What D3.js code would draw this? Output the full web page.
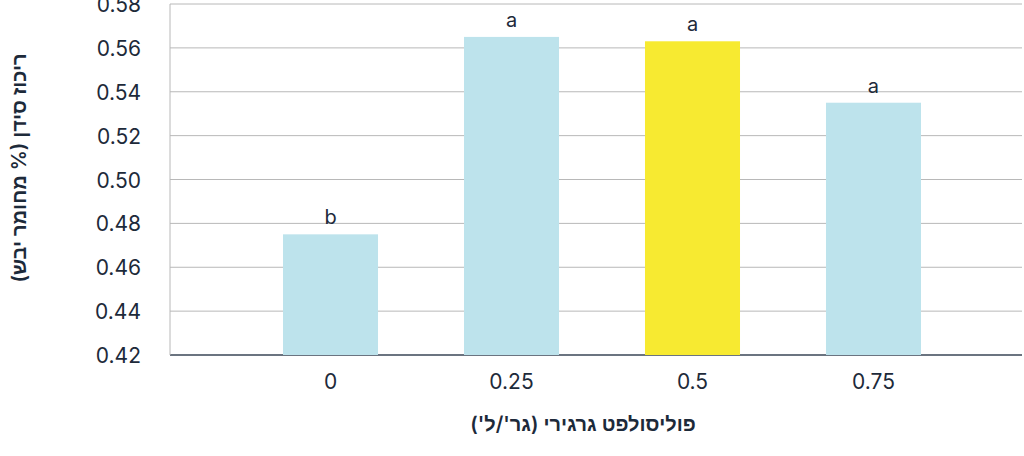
<!DOCTYPE html>
<html><head><meta charset="utf-8">
<script src="https://cdnjs.cloudflare.com/ajax/libs/d3/7.8.5/d3.min.js"></script>
<style>body{margin:0;background:#fff}svg{display:block;font-family:Inter,"Noto Sans",sans-serif}</style>
</head><body><svg id="chart" width="1024" height="456"></svg>
<script>
// chart data
var categories = ["0", "0.25", "0.5", "0.75"];
var values = [0.475, 0.565, 0.563, 0.535];
var letters = ["b", "a", "a", "a"];
var yTicks = [0.42, 0.44, 0.46, 0.48, 0.50, 0.52, 0.54, 0.56, 0.58];
var highlight = "0.5";

var svg = d3.select("#chart");
var ink = "#1d2a3a";

var x = d3.scaleBand().domain(categories).range([283, 921]).paddingInner(0.475).paddingOuter(0);
var y = d3.scaleLinear().domain([0.42, 0.58]).range([355, 4]);

// gridlines
svg.selectAll(".grid").data(yTicks).enter().append("line")
  .attr("x1", 170).attr("x2", 1022)
  .attr("y1", d => y(d)).attr("y2", d => y(d))
  .attr("stroke", d => d == 0.42 ? "#3a4656" : "#b8b8b8")
  .attr("stroke-width", d => d == 0.42 ? 1.5 : 1);
svg.append("line").attr("x1", 170).attr("x2", 170).attr("y1", 4).attr("y2", 355).attr("stroke", "#b8b8b8");

// y tick labels
svg.selectAll(".yt").data(yTicks).enter().append("text")
  .attr("x", 141).attr("y", d => y(d) + 8)
  .attr("text-anchor", "end").attr("font-size", 21).attr("fill", ink)
  .text(d => d.toFixed(2));

// bars
svg.selectAll(".bar").data(categories).enter().append("rect")
  .attr("x", d => x(d)).attr("width", x.bandwidth())
  .attr("y", (d, i) => y(values[i]))
  .attr("height", (d, i) => y(0.42) - y(values[i]))
  .attr("fill", d => d == highlight ? "#f7ea31" : "#bde3ec");

// significance letters
svg.selectAll(".lt").data(categories).enter().append("text")
  .attr("x", d => x(d) + x.bandwidth() / 2)
  .attr("y", (d, i) => y(values[i]) - 10)
  .attr("text-anchor", "middle").attr("font-size", 20).attr("fill", ink)
  .text((d, i) => letters[i]);

// x tick labels
svg.selectAll(".xt").data(categories).enter().append("text")
  .attr("x", d => x(d) + x.bandwidth() / 2).attr("y", 389)
  .attr("text-anchor", "middle").attr("font-size", 21).attr("fill", ink)
  .text(d => d);

// axis titles
svg.append("text").attr("x", 583).attr("y", 431).attr("text-anchor", "middle")
  .attr("font-size", 20).attr("font-weight", 600).attr("fill", ink).attr("direction", "rtl")
  .text("פוליסולפט גרגירי (גר'/ל')");
svg.append("text").attr("transform", "translate(26,168) rotate(-90)").attr("text-anchor", "middle")
  .attr("font-size", 20).attr("font-weight", 600).attr("fill", ink).attr("direction", "rtl")
  .text("ריכוז סידן (% מחומר יבש)");
</script></body></html>
